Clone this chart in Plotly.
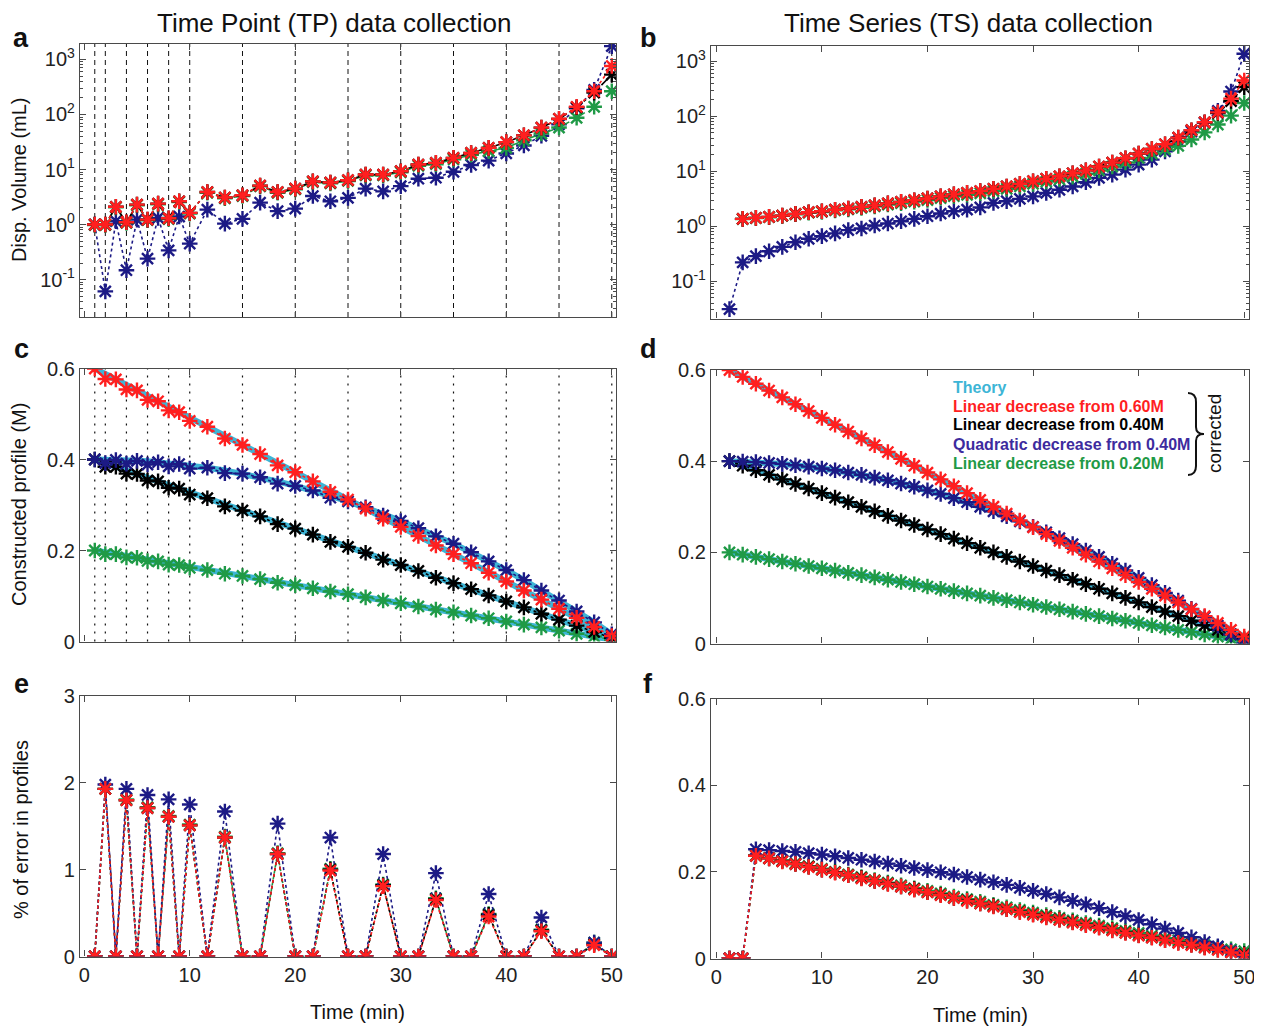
import plotly.graph_objects as go

W, H = 1262, 1030
OFF = 8  # the html body margin shifts the figure by 8px
FW, FH = W - OFF, H - OFF
FONT = "Liberation Sans, Arial, sans-serif"
AX = "#4a4a4a"
RED = "#ff1f1f"
BLACK = "#000000"
BLUE = "#1c1a85"
GREEN = "#1f9a46"
CYAN = "#3db5d6"
PURPLE = "#3d2b9e"

# sampling grids (min)
t_tp = [1, 2, 3, 4, 5, 6, 7, 8, 9, 10, 11.67, 13.33, 15, 16.67, 18.33, 20, 21.67, 23.33, 25, 26.67,
        28.33, 30, 31.67, 33.33, 35, 36.67, 38.33, 40, 41.67, 43.33, 45, 46.67, 48.33, 50]
t_ts = [1.25, 2.5, 3.75, 5, 6.25, 7.5, 8.75, 10, 11.25, 12.5, 13.75, 15, 16.25, 17.5, 18.75, 20,
        21.25, 22.5, 23.75, 25, 26.25, 27.5, 28.75, 30, 31.25, 32.5, 33.75, 35, 36.25, 37.5, 38.75, 40,
        41.25, 42.5, 43.75, 45, 46.25, 47.5, 48.75, 50]
tp_samples = [1, 2, 4, 6, 8, 10, 15, 20, 25, 30, 35, 40, 45, 50]

# a: dispensed volume, TP (mL)
red_a = [1.0, 1.0, 2.1, 1.1, 2.3, 1.23, 2.4, 1.3, 2.65, 1.63, 3.9, 3.1, 3.4, 5.1, 3.9, 4.5, 6.1, 5.8, 6.4, 8.1,
         8.1, 9.3, 12.3, 13.2, 16.3, 20, 24.7, 31.4, 41.8, 57.6, 83.6, 138, 265, 760]
black_a = [1.0, 1.0, 2.1, 1.1, 2.3, 1.23, 2.4, 1.3, 2.65, 1.63, 3.9, 3.1, 3.4, 5.1, 3.9, 4.5, 6.1, 5.8, 6.4, 8.1,
           8.1, 9.3, 12.3, 13.2, 16.3, 20, 24.7, 31.4, 41.8, 57.6, 83, 135, 250, 530]
green_a = [0.98, 0.98, 2.05, 1.07, 2.24, 1.2, 2.33, 1.26, 2.57, 1.58, 3.78, 3.0, 3.3, 4.95, 3.78, 4.35, 5.9, 5.6,
           6.2, 7.8, 7.8, 8.9, 11.7, 12.5, 15.3, 18.6, 21.6, 24.7, 34, 45, 58, 87, 138, 265]
blue_a = [1.0, 0.061, 1.15, 0.148, 1.23, 0.24, 1.32, 0.34, 1.4, 0.45, 1.87, 1.04, 1.27, 2.5, 1.75, 1.95, 3.3,
          2.65, 3.05, 4.5, 4.0, 5.0, 6.8, 7.1, 9.1, 12.1, 14.5, 19.6, 27.4, 41, 66, 130, 280, 1750]

# b: dispensed volume, TS (mL)
red_b = [None, 1.36, 1.42, 1.48, 1.56, 1.68, 1.8, 1.87, 2.0, 2.1, 2.25, 2.4, 2.6, 2.77, 2.97, 3.2, 3.5, 3.8,
         4.05, 4.35, 4.8, 5.3, 5.9, 6.6, 7.3, 8.1, 9.2, 10.4, 12.2, 14.4, 17.3, 21, 25.5, 31, 41, 56, 78, 118,
         210, 450]
black_b = [None, 1.36, 1.42, 1.48, 1.56, 1.68, 1.8, 1.87, 2.0, 2.1, 2.25, 2.4, 2.6, 2.77, 2.97, 3.2, 3.5, 3.8,
           4.05, 4.35, 4.8, 5.3, 5.9, 6.6, 7.3, 8.1, 9.2, 10.4, 12.2, 14.4, 17.3, 21, 25.5, 31, 41, 56, 78, 115,
           190, 340]
green_b = [None, 1.35, 1.41, 1.46, 1.54, 1.65, 1.76, 1.82, 1.94, 2.03, 2.16, 2.3, 2.48, 2.62, 2.8, 3.0, 3.26,
           3.52, 3.73, 3.98, 4.37, 4.8, 5.3, 5.9, 6.5, 7.1, 8.0, 9.0, 10.4, 12.2, 14.5, 17.5, 21, 25, 29, 38,
           51, 71, 103, 175]
blue_b = [0.031, 0.22, 0.285, 0.35, 0.42, 0.51, 0.59, 0.66, 0.74, 0.85, 0.91, 1.03, 1.12, 1.23, 1.36, 1.52,
          1.70, 1.87, 2.0, 2.2, 2.66, 2.85, 3.15, 3.5, 4.05, 4.6, 5.3, 6.3, 7.6, 8.7, 10.7, 13.2, 16.3, 23, 35,
          53, 76, 126, 283, 1380]

# c: constructed profiles, TP (M)
th_red_c = [0.600, 0.588, 0.576, 0.564, 0.552, 0.540, 0.528, 0.516, 0.504, 0.492, 0.472, 0.452, 0.432, 0.412,
            0.392, 0.372, 0.352, 0.332, 0.312, 0.292, 0.272, 0.252, 0.232, 0.212, 0.192, 0.172, 0.152, 0.132,
            0.112, 0.092, 0.072, 0.052, 0.032, 0.012]
th_black_c = [0.400, 0.392, 0.384, 0.376, 0.368, 0.360, 0.352, 0.344, 0.336, 0.328, 0.315, 0.301, 0.288,
              0.275, 0.261, 0.248, 0.235, 0.221, 0.208, 0.195, 0.181, 0.168, 0.155, 0.141, 0.128, 0.115, 0.101,
              0.088, 0.075, 0.061, 0.048, 0.035, 0.021, 0.008]
th_green_c = [0.200, 0.196, 0.192, 0.188, 0.184, 0.180, 0.176, 0.172, 0.168, 0.164, 0.157, 0.151, 0.144,
              0.137, 0.131, 0.124, 0.117, 0.111, 0.104, 0.097, 0.091, 0.084, 0.077, 0.071, 0.064, 0.057, 0.051,
              0.044, 0.037, 0.031, 0.024, 0.017, 0.011, 0.004]
th_blue_c = [0.400, 0.400, 0.399, 0.399, 0.397, 0.396, 0.394, 0.392, 0.390, 0.387, 0.382, 0.376, 0.369, 0.361,
             0.352, 0.342, 0.332, 0.320, 0.308, 0.295, 0.280, 0.265, 0.249, 0.233, 0.215, 0.196, 0.177, 0.157,
             0.135, 0.113, 0.090, 0.066, 0.042, 0.016]
red_c = [0.600, 0.577, 0.576, 0.554, 0.552, 0.531, 0.528, 0.508, 0.504, 0.485, 0.472, 0.446, 0.432, 0.412,
         0.387, 0.372, 0.352, 0.329, 0.312, 0.292, 0.270, 0.252, 0.232, 0.211, 0.192, 0.172, 0.151, 0.132,
         0.112, 0.092, 0.072, 0.052, 0.032, 0.012]
black_c = [0.400, 0.384, 0.384, 0.369, 0.368, 0.354, 0.352, 0.338, 0.336, 0.323, 0.315, 0.297, 0.288, 0.275,
           0.258, 0.248, 0.235, 0.219, 0.208, 0.195, 0.180, 0.168, 0.155, 0.140, 0.128, 0.115, 0.101, 0.088,
           0.075, 0.061, 0.048, 0.035, 0.021, 0.008]
green_c = [0.200, 0.192, 0.192, 0.185, 0.184, 0.177, 0.176, 0.169, 0.168, 0.162, 0.157, 0.149, 0.144, 0.137,
           0.129, 0.124, 0.117, 0.110, 0.104, 0.097, 0.090, 0.084, 0.077, 0.070, 0.064, 0.057, 0.051, 0.044,
           0.037, 0.031, 0.024, 0.017, 0.011, 0.004]
blue_c = [0.400, 0.392, 0.399, 0.391, 0.397, 0.389, 0.394, 0.385, 0.390, 0.380, 0.382, 0.370, 0.369, 0.361,
          0.347, 0.342, 0.332, 0.316, 0.308, 0.295, 0.277, 0.265, 0.249, 0.231, 0.215, 0.196, 0.176, 0.157,
          0.135, 0.112, 0.090, 0.066, 0.042, 0.016]

# d: constructed profiles, TS (M) - indistinguishable from theory at this scale
red_d = [0.600, 0.585, 0.570, 0.555, 0.540, 0.525, 0.510, 0.495, 0.480, 0.465, 0.450, 0.435, 0.420, 0.405,
         0.390, 0.375, 0.360, 0.345, 0.330, 0.315, 0.300, 0.285, 0.270, 0.255, 0.240, 0.225, 0.210, 0.195,
         0.180, 0.165, 0.150, 0.135, 0.120, 0.105, 0.090, 0.075, 0.060, 0.045, 0.030, 0.015]
black_d = [0.400, 0.390, 0.380, 0.370, 0.360, 0.350, 0.340, 0.330, 0.320, 0.310, 0.300, 0.290, 0.280, 0.270,
           0.260, 0.250, 0.240, 0.230, 0.220, 0.210, 0.200, 0.190, 0.180, 0.170, 0.160, 0.150, 0.140, 0.130,
           0.120, 0.110, 0.100, 0.090, 0.080, 0.070, 0.060, 0.050, 0.040, 0.030, 0.020, 0.010]
green_d = [0.200, 0.195, 0.190, 0.185, 0.180, 0.175, 0.170, 0.165, 0.160, 0.155, 0.150, 0.145, 0.140, 0.135,
           0.130, 0.125, 0.120, 0.115, 0.110, 0.105, 0.100, 0.095, 0.090, 0.085, 0.080, 0.075, 0.070, 0.065,
           0.060, 0.055, 0.050, 0.045, 0.040, 0.035, 0.030, 0.025, 0.020, 0.015, 0.010, 0.005]
blue_d = [0.400, 0.399, 0.398, 0.396, 0.394, 0.391, 0.388, 0.384, 0.380, 0.375, 0.370, 0.364, 0.358, 0.351,
          0.344, 0.336, 0.328, 0.319, 0.310, 0.300, 0.290, 0.279, 0.268, 0.256, 0.244, 0.231, 0.218, 0.204,
          0.190, 0.175, 0.160, 0.144, 0.128, 0.111, 0.094, 0.076, 0.058, 0.039, 0.020, 0.000]

# e: % error, TP
red_e = [0, 1.93, 0, 1.80, 0, 1.71, 0, 1.61, 0, 1.51, 0, 1.37, 0, 0, 1.18, 0, 0, 0.99, 0, 0, 0.81, 0, 0, 0.65,
         0, 0, 0.46, 0, 0, 0.29, 0, 0, 0.13, 0]
black_e = [0, 1.93, 0, 1.80, 0, 1.71, 0, 1.61, 0, 1.51, 0, 1.37, 0, 0, 1.18, 0, 0, 1.0, 0, 0, 0.82, 0, 0, 0.66,
           0, 0, 0.48, 0, 0, 0.30, 0, 0, 0.14, 0]
green_e = [0, 1.93, 0, 1.81, 0, 1.72, 0, 1.62, 0, 1.52, 0, 1.38, 0, 0, 1.19, 0, 0, 1.01, 0, 0, 0.83, 0, 0, 0.67,
           0, 0, 0.49, 0, 0, 0.31, 0, 0, 0.16, 0]
blue_e = [0, 1.98, 0, 1.93, 0, 1.86, 0, 1.81, 0, 1.75, 0, 1.67, 0, 0, 1.53, 0, 0, 1.37, 0, 0, 1.18, 0, 0, 0.96,
          0, 0, 0.72, 0, 0, 0.45, 0, 0, 0.16, 0]

# f: % error, TS
red_f = [0, 0, 0.237, 0.231, 0.224, 0.218, 0.211, 0.205, 0.198, 0.192, 0.185, 0.179, 0.172, 0.166, 0.159,
         0.153, 0.146, 0.140, 0.133, 0.127, 0.120, 0.114, 0.107, 0.101, 0.095, 0.089, 0.083, 0.077, 0.071,
         0.065, 0.059, 0.053, 0.048, 0.042, 0.036, 0.031, 0.025, 0.020, 0.014, 0.008]
black_f = [0, 0, 0.237, 0.231, 0.225, 0.218, 0.212, 0.205, 0.199, 0.192, 0.186, 0.179, 0.173, 0.166, 0.160,
           0.153, 0.147, 0.140, 0.134, 0.127, 0.121, 0.114, 0.108, 0.102, 0.096, 0.090, 0.084, 0.078, 0.072,
           0.066, 0.060, 0.054, 0.049, 0.043, 0.037, 0.032, 0.026, 0.021, 0.015, 0.010]
green_f = [0, 0, 0.238, 0.232, 0.226, 0.220, 0.213, 0.207, 0.200, 0.194, 0.188, 0.181, 0.175, 0.169, 0.162,
           0.156, 0.150, 0.143, 0.137, 0.131, 0.124, 0.118, 0.112, 0.106, 0.100, 0.094, 0.088, 0.082, 0.076,
           0.070, 0.064, 0.059, 0.053, 0.047, 0.042, 0.037, 0.031, 0.026, 0.021, 0.017]
blue_f = [0, 0, 0.252, 0.250, 0.248, 0.246, 0.243, 0.240, 0.236, 0.232, 0.228, 0.224, 0.219, 0.214, 0.209,
          0.204, 0.199, 0.194, 0.188, 0.182, 0.176, 0.170, 0.163, 0.156, 0.149, 0.141, 0.133, 0.125, 0.116,
          0.107, 0.098, 0.089, 0.079, 0.069, 0.059, 0.049, 0.038, 0.028, 0.017, 0.005]

legend_lines = [("Theory", CYAN), ("Linear decrease from 0.60M", RED), ("Linear decrease from 0.40M", BLACK),
                ("Quadratic decrease from 0.40M", PURPLE), ("Linear decrease from 0.20M", GREEN)]


def fx(x):
    return (x - OFF) / FW


def fy(y):
    return 1 - (y - OFF) / FH


fig = go.Figure()


def series(x, y, color, n, dash="dot", msize=13):
    fig.add_trace(go.Scatter(
        x=x, y=y, xaxis="x%d" % n, yaxis="y%d" % n, mode="lines+markers",
        line=dict(color=color, width=1.6, dash=dash),
        marker=dict(symbol="asterisk", size=msize, color=color, line=dict(color=color, width=2.4)),
        showlegend=False, hoverinfo="skip"))


def theory(x, y, n):
    fig.add_trace(go.Scatter(x=x, y=y, xaxis="x%d" % n, yaxis="y%d" % n, mode="lines",
                             line=dict(color=CYAN, width=6), showlegend=False, hoverinfo="skip"))


# a
series(t_tp, blue_a, BLUE, 1)
series(t_tp, green_a, GREEN, 1, dash="dash")
series(t_tp, black_a, BLACK, 1, dash="dashdot")
series(t_tp, red_a, RED, 1)
# b
series(t_ts, blue_b, BLUE, 2)
series(t_ts, green_b, GREEN, 2, dash="dash")
series(t_ts, black_b, BLACK, 2, dash="dashdot")
series(t_ts, red_b, RED, 2)
# c
for th in (th_red_c, th_black_c, th_green_c, th_blue_c):
    theory(t_tp, th, 3)
series(t_tp, green_c, GREEN, 3)
series(t_tp, black_c, BLACK, 3)
series(t_tp, blue_c, BLUE, 3)
series(t_tp, red_c, RED, 3)
# d
for th in (red_d, black_d, green_d, blue_d):
    theory(t_ts, th, 4)
series(t_ts, green_d, GREEN, 4)
series(t_ts, black_d, BLACK, 4)
series(t_ts, blue_d, BLUE, 4)
series(t_ts, red_d, RED, 4)
# e
series(t_tp, green_e, GREEN, 5)
series(t_tp, black_e, BLACK, 5)
series(t_tp, blue_e, BLUE, 5)
series(t_tp, red_e, RED, 5)
# f
series(t_ts, green_f, GREEN, 6)
series(t_ts, black_f, BLACK, 6)
series(t_ts, blue_f, BLUE, 6)
series(t_ts, red_f, RED, 6)

# pixel boxes of the six panels in the page: (left, right, top, bottom)
boxes = {1: (80, 616, 43.5, 317), 2: (711, 1249, 45.5, 318.5),
         3: (80, 616, 368.5, 641.5), 4: (711, 1249, 370, 643.5),
         5: (80, 616, 696, 956.5), 6: (711, 1249, 698.5, 958.5)}

base = dict(showline=True, linecolor=AX, linewidth=1.2, mirror="ticks", ticks="inside", ticklen=6,
            tickcolor=AX, tickwidth=1.1, showgrid=False, zeroline=False, automargin=False,
            tickfont=dict(family=FONT, size=20, color="#222"))
layout = {}
for n, (l, r, t, b) in boxes.items():
    left = n % 2 == 1
    xa = dict(base, domain=[fx(l), fx(r)], anchor="y%d" % n,
              range=[-0.4, 50.4] if left else [-0.5, 50.45],
              tickvals=[0, 10, 20, 30, 40, 50], showticklabels=n >= 5)
    ya = dict(base, domain=[fy(b), fy(t)], anchor="x%d" % n)
    if n <= 2:
        ya.update(type="log", range=[-1.68, 3.29], tickvals=[0.1, 1, 10, 100, 1000],
                  ticktext=["10<sup>-1</sup>", "10<sup>0</sup>", "10<sup>1</sup>", "10<sup>2</sup>",
                            "10<sup>3</sup>"],
                  minor=dict(ticks="inside", ticklen=3, tickcolor=AX, dtick="D1", showgrid=False))
    elif n == 5:
        ya.update(range=[0, 3], tickvals=[0, 1, 2, 3])
    else:
        ya.update(range=[0, 0.6], tickvals=[0, 0.2, 0.4, 0.6], ticktext=["0", "0.2", "0.4", "0.6"])
    sfx = "" if n == 1 else str(n)
    layout["xaxis" + sfx] = xa
    layout["yaxis" + sfx] = ya

# sample-time markers in a (dashed) and c (dotted)
shapes = []
for t in tp_samples:
    shapes.append(dict(type="line", xref="x", yref="y domain", x0=t, x1=t, y0=0, y1=1, layer="below",
                       line=dict(color="#111", width=1, dash="5px,4px")))
    shapes.append(dict(type="line", xref="x3", yref="y3 domain", x0=t, x1=t, y0=0, y1=1, layer="below",
                       line=dict(color="#111", width=1.2, dash="2px,6px")))

# curly brace next to the legend of d
pts = [(1188, 393), (1196, 393), (1196, 402), (1196, 427), (1196, 434), (1204, 434), (1196, 434),
       (1196, 441), (1196, 466), (1196, 475), (1188, 475)]
path = "M %f %f Q %f %f %f %f L %f %f Q %f %f %f %f Q %f %f %f %f L %f %f Q %f %f %f %f" % tuple(
    v for (x, y) in pts for v in (fx(x), fy(y)))
shapes.append(dict(type="path", xref="paper", yref="paper", path=path, line=dict(color="#111", width=2)))

ann = []


def text(x, y, s, size=20, color="#111", bold=False, angle=0, xanchor="center", yanchor="middle"):
    ann.append(dict(x=fx(x), y=fy(y), xref="paper", yref="paper", text="<b>%s</b>" % s if bold else s,
                    showarrow=False, textangle=angle, xanchor=xanchor, yanchor=yanchor,
                    font=dict(family=FONT, size=size, color=color)))


text(335, 23, "Time Point (TP) data collection", size=26)
text(968, 23, "Time Series (TS) data collection", size=26)
for lab, (x, y) in zip("abcdef", [(21, 38), (648, 38), (21, 349), (648, 349), (21, 684), (648, 684)]):
    text(x, y, lab, size=27, bold=True)
text(19, 180, "Disp. Volume (mL)", angle=-90)
text(19, 505, "Constructed profile (M)", angle=-90)
text(21, 830, "% of error in profiles", angle=-90)
text(357, 1012, "Time (min)")
text(980, 1015, "Time (min)")
for i, (s, c) in enumerate(legend_lines):
    text(951, 387 + 19 * i, s, size=16, color=c, bold=True, xanchor="left")
text(1215, 434, "corrected", size=19, angle=-90)

fig.update_layout(width=FW, height=FH, autosize=False, margin=dict(l=0, r=0, t=0, b=0),
                  paper_bgcolor="white", plot_bgcolor="white", showlegend=False,
                  shapes=shapes, annotations=ann, **layout)

fig.write_html("out.html")
